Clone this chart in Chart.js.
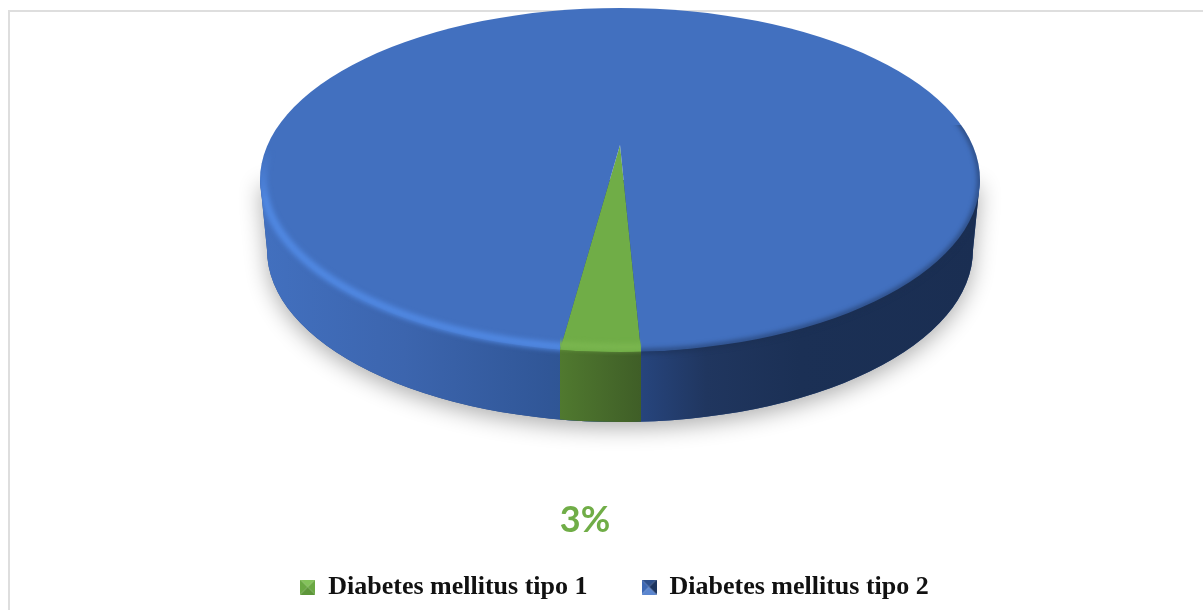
<!DOCTYPE html>
<html>
<head>
<meta charset="utf-8">
<title>Diabetes mellitus</title>
<script src="https://cdn.jsdelivr.net/npm/chart.js@4"></script>
<style>
  html, body { margin: 0; padding: 0; background: #fff; overflow: hidden; }
  #wrap { width: 1203px; height: 610px; }
</style>
</head>
<body>
<div id="wrap"><canvas id="pie"></canvas></div>
<script>
const categories = ["Diabetes mellitus tipo 1", "Diabetes mellitus tipo 2"];
const shareValues = [3, 97];
const sliceColors = ["#70ad47", "#4270bf"];
const labelledSlices = [0];

// disc geometry in page pixels
const TOP = { x: 620, y: 180, rx: 360, ry: 172 };
const BASE = { x: 620, y: 250, rx: 353, ry: 172 };
// slices fan out from a point behind the disc centre, which fakes the perspective
const FAN = { x: 620, y: 145, rx: 432, ry: 207 };

function ellipsePath(ctx, e, inset = 0) {
  ctx.beginPath();
  ctx.ellipse(e.x, e.y, e.rx - inset, e.ry - inset, 0, 0, Math.PI * 2);
}

// x where a slice edge at this angle meets the rim of the top face
function rimX(angle) {
  const dx = FAN.rx * Math.cos(angle);
  const dy = FAN.ry * Math.sin(angle);
  const oy = FAN.y - TOP.y;
  const a = (dx * dx) / (TOP.rx * TOP.rx) + (dy * dy) / (TOP.ry * TOP.ry);
  const b = (2 * oy * dy) / (TOP.ry * TOP.ry);
  const c = (oy * oy) / (TOP.ry * TOP.ry) - 1;
  const t = (-b + Math.sqrt(b * b - 4 * a * c)) / (2 * a);
  return FAN.x + t * dx;
}

function horizontalGradient(ctx, stops) {
  const g = ctx.createLinearGradient(TOP.x - TOP.rx, 0, TOP.x + TOP.rx, 0);
  stops.forEach(([pos, color]) => g.addColorStop(pos, color));
  return g;
}

function wallPath(ctx) {
  ctx.beginPath();
  ctx.moveTo(TOP.x - TOP.rx, TOP.y);
  ctx.lineTo(BASE.x - BASE.rx, BASE.y);
  ctx.ellipse(BASE.x, BASE.y, BASE.rx, BASE.ry, 0, Math.PI, 0, true);
  ctx.lineTo(TOP.x + TOP.rx, TOP.y);
  ctx.closePath();
}

// outline of the whole disc: upper half of the top face plus the wall
function silhouettePath(ctx) {
  ctx.beginPath();
  ctx.ellipse(TOP.x, TOP.y, TOP.rx, TOP.ry, 0, Math.PI, 0, false);
  ctx.lineTo(BASE.x + BASE.rx, BASE.y);
  ctx.ellipse(BASE.x, BASE.y, BASE.rx, BASE.ry, 0, 0, Math.PI, false);
  ctx.closePath();
}

function drawWall(ctx, left, right) {
  // soft shadow on the ground
  ctx.save();
  ctx.shadowColor = "rgba(0,0,0,0.32)";
  ctx.shadowBlur = 22;
  ctx.shadowOffsetY = 6;
  ctx.fillStyle = "#2b4f8c";
  wallPath(ctx);
  ctx.fill();
  ctx.restore();

  ctx.fillStyle = horizontalGradient(ctx, [
    [0, "#4270bf"], [0.2, "#3c65ae"], [0.42, "#2f5595"], [0.52, "#274680"],
    [0.62, "#20365f"], [0.75, "#1b3055"], [1, "#1a2e52"]
  ]);
  wallPath(ctx);
  ctx.fill();

  // the small slice continues down the wall
  ctx.save();
  ctx.beginPath();
  ctx.rect(left, TOP.y, right - left, 300);
  ctx.clip();
  const g = ctx.createLinearGradient(left, 0, right, 0);
  g.addColorStop(0, "#50792f");
  g.addColorStop(1, "#3f5e27");
  ctx.fillStyle = g;
  wallPath(ctx);
  ctx.fill();
  ctx.restore();
}

function strokeRimPart(ctx, x, y, w, h, style, width, inset) {
  ctx.save();
  ctx.beginPath();
  ctx.rect(x, y, w, h);
  ctx.clip();
  ctx.strokeStyle = style;
  ctx.lineWidth = width;
  ellipsePath(ctx, TOP, inset);
  ctx.stroke();
  ctx.restore();
}

function drawRim(ctx, left, right) {
  ctx.save();
  silhouettePath(ctx);
  ctx.clip();
  ctx.filter = "blur(2.5px)";

  // highlight on the lower left, fading in near the widest point
  const glow = ctx.createLinearGradient(0, TOP.y - 30, 0, TOP.y + 20);
  glow.addColorStop(0, "rgba(80,136,226,0)");
  glow.addColorStop(1, "rgba(80,136,226,1)");
  strokeRimPart(ctx, 0, TOP.y - 30, left, 300, glow, 8, 3);

  strokeRimPart(ctx, left, TOP.y, right - left, 300, "#7ab64f", 7, 5);

  // darker edge towards the right
  strokeRimPart(ctx, right, 125, 400, 400, "rgba(26,46,82,0.6)", 5, 0);
  ctx.restore();
}

const discPlugin = {
  id: "disc",
  beforeDraw(chart) {
    const ctx = chart.ctx;
    ctx.save();
    ctx.fillStyle = "#fff";
    ctx.fillRect(0, 0, chart.width, chart.height);
    // chart frame, cut off at the right and bottom
    ctx.strokeStyle = "#dedede";
    ctx.lineWidth = 2;
    ctx.beginPath();
    ctx.moveTo(9, chart.height);
    ctx.lineTo(9, 11);
    ctx.lineTo(chart.width, 11);
    ctx.stroke();
    ctx.restore();
  },
  beforeDatasetsDraw(chart) {
    const ctx = chart.ctx;
    const arcs = chart.getDatasetMeta(0).data;
    const small = arcs[0];
    const edgeA = rimX(small.startAngle);
    const edgeB = rimX(small.endAngle);
    const left = Math.min(edgeA, edgeB);
    const right = Math.max(edgeA, edgeB);

    drawWall(ctx, left, right);

    ctx.save();
    ellipsePath(ctx, TOP);
    ctx.clip();
    arcs.forEach((arc) => {
      ctx.save();
      ctx.translate(FAN.x, FAN.y);
      ctx.scale(FAN.rx / arc.outerRadius, FAN.ry / arc.outerRadius);
      ctx.translate(-arc.x, -arc.y);
      arc.draw(ctx);
      ctx.restore();
    });
    ctx.restore();

    drawRim(ctx, left, right);
    return false;
  },
  afterDraw(chart) {
    const ctx = chart.ctx;
    const total = shareValues.reduce((a, b) => a + b, 0);
    ctx.save();
    ctx.font = "bold 36px Lato";
    ctx.textAlign = "center";
    ctx.textBaseline = "middle";
    labelledSlices.forEach((i) => {
      ctx.fillStyle = sliceColors[i];
      ctx.fillText(Math.round((shareValues[i] / total) * 100) + "%", 585, 520);
    });
    ctx.restore();
  }
};

// bevelled legend swatches
function makeSwatch(bottom, top, side, otherSide) {
  const size = 15;
  const c = document.createElement("canvas");
  c.width = size;
  c.height = size;
  const g = c.getContext("2d");
  const tri = (color, pts) => {
    g.fillStyle = color;
    g.beginPath();
    pts.forEach(([x, y], i) => (i ? g.lineTo(x, y) : g.moveTo(x, y)));
    g.closePath();
    g.fill();
  };
  const m = size / 2;
  tri(top, [[0, 0], [size, 0], [m, m]]);
  tri(side, [[0, 0], [0, size], [m, m]]);
  tri(otherSide, [[size, 0], [size, size], [m, m]]);
  tri(bottom, [[0, size], [size, size], [m, m]]);
  return c;
}

const swatches = [
  makeSwatch("#5d9639", "#83c25a", "#6aa843", "#6aa843"),
  makeSwatch("#5b86cf", "#2d4f8c", "#3d68b4", "#1d3560")
];

new Chart(document.getElementById("pie"), {
  type: "pie",
  data: {
    labels: categories,
    datasets: [{
      data: shareValues,
      backgroundColor: sliceColors,
      borderWidth: 0
    }]
  },
  options: {
    responsive: true,
    maintainAspectRatio: false,
    animation: false,
    rotation: 177.2,
    layout: { padding: { left: 26 } },
    plugins: {
      tooltip: { enabled: false },
      legend: {
        position: "bottom",
        labels: {
          usePointStyle: true,
          boxWidth: 15,
          boxHeight: 15,
          padding: 54,
          color: "#111",
          font: { family: "'Liberation Serif'", size: 26, weight: "bold" },
          generateLabels(chart) {
            const items = Chart.overrides.pie.plugins.legend.labels.generateLabels(chart);
            items.forEach((item, i) => { item.pointStyle = swatches[i]; });
            return items;
          }
        }
      }
    }
  },
  plugins: [discPlugin]
});
</script>
</body>
</html>
